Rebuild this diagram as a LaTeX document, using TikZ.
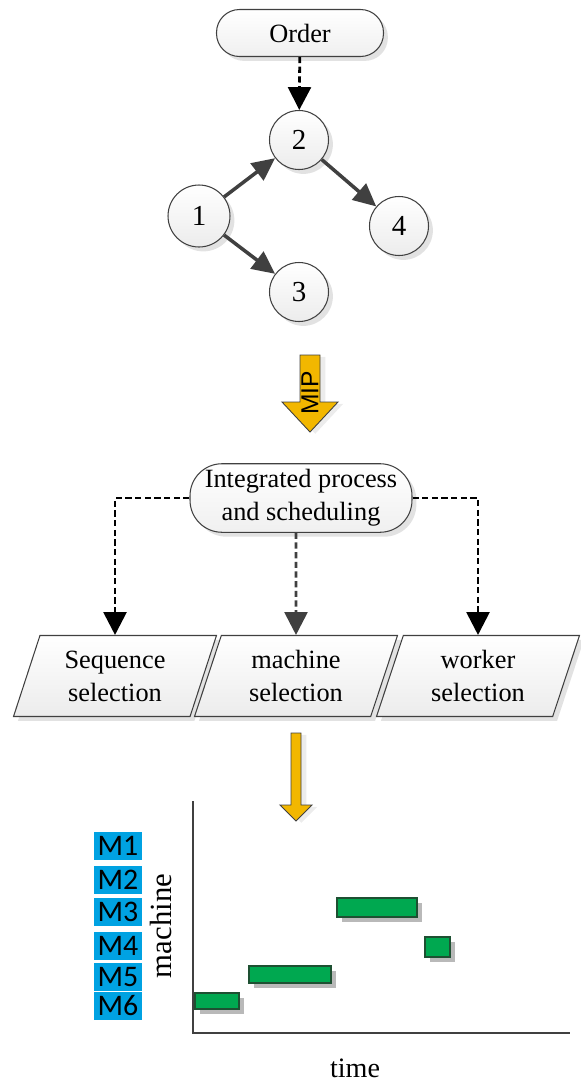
\documentclass[tikz,border=0pt]{standalone}
\usepackage{fontspec}
\setmainfont{Liberation Serif}
\newfontfamily\labelfont{Carlito}
\newfontfamily\arrowfont{Liberation Sans}
\usepackage{tikz}
\usetikzlibrary{arrows.meta}
\usetikzlibrary{shapes.geometric}
\usetikzlibrary{shadows}
\definecolor{edgegray}{RGB}{64,64,64}
\definecolor{mipyellow}{RGB}{242,183,0}
\definecolor{mblue}{RGB}{0,162,226}
\definecolor{bargreen}{RGB}{0,168,80}
\definecolor{bardark}{RGB}{30,80,50}

\begin{document}
\begin{tikzpicture}[x=0.02cm, y=-0.02cm,
    txt/.style={font=\fontsize{15}{18.7}\selectfont, align=center},
    softshadow/.style={drop shadow={shadow xshift=2.5pt, shadow yshift=-2.5pt, fill=gray!45, opacity=.5}},
    pill/.style={txt, draw=edgegray, line width=0.6pt, rounded corners=0.46cm, top color=white, bottom color=gray!12, softshadow},
    job/.style={circle, draw=edgegray, line width=0.6pt, minimum size=1.18cm, top color=white, bottom color=gray!15, softshadow, font=\fontsize{16.5}{18}\selectfont},
    choice/.style={txt, trapezium, trapezium left angle=67, trapezium right angle=113, trapezium stretches body,
        minimum width=4.06cm, minimum height=1.62cm, draw=edgegray, line width=0.6pt, top color=white, bottom color=gray!15, softshadow},
    link/.style={draw=edgegray, line width=2pt, -{Triangle[length=13pt,width=12pt]}},
    flow/.style={line width=1.6pt, dash pattern=on 3.5pt off 2pt, -{Triangle[length=13pt,width=13pt]}},
    mlabel/.style={fill=mblue, minimum width=0.96cm, minimum height=0.56cm, inner sep=0pt, font=\labelfont\fontsize{17}{17}\selectfont},
    bar/.style={fill=bargreen, draw=bardark, line width=0.6pt},
    barshade/.style={fill=gray!55},
    block/.style={fill=mipyellow, draw=edgegray, line width=0.5pt, drop shadow={shadow xshift=3pt, shadow yshift=-1pt, fill=gray!30, opacity=.5}}
]
    \useasboundingbox (0,0) rectangle (581,1086);

    \node[pill, minimum width=3.34cm, minimum height=0.94cm] (order) at (300,33) {Order};
    \node[job, minimum size=1.24cm] (c1) at (199,216) {1};
    \node[job] (c2) at (299,140) {2};
    \node[job] (c3) at (299,292) {3};
    \node[job] (c4) at (399,226) {4};
    \draw[flow] (order) -- (c2);
    \draw[link] (c1) -- (c2);
    \draw[link] (c1) -- (c3);
    \draw[link] (c2) -- (c4);

    \draw[block] (300,355) -- (320,355) -- (320,402) -- (338,402) -- (310,432) -- (282,402) -- (300,402) -- cycle;
    \node[rotate=90, inner sep=0pt, font=\arrowfont\fontsize{14}{14}\selectfont] (mip) at (310,393) {MIP};

    \node[pill, rounded corners=0.64cm, minimum width=4.44cm, minimum height=1.34cm] (plan) at (301,498) {Integrated process\\and scheduling};
    \node[choice] (seq) at (115,676) {Sequence\\selection};
    \node[choice] (mach) at (296,676) {machine\\selection};
    \node[choice] (work) at (478,676) {worker\\selection};
    \draw[flow] (plan.west) -| (seq);
    \draw[flow, edgegray] (plan.south -| mach) -- (mach);
    \draw[flow] (plan.east) -| (work);

    \draw[block] (291,733) -- (301,733) -- (301,805) -- (312,805) -- (296,821) -- (280,805) -- (291,805) -- cycle;

    \draw[edgegray, line width=1.3pt] (193,801) -- (193,1033) -- (570,1033);
    \node[rotate=90, font=\fontsize{17.5}{18}\selectfont] (ylabel) at (161,926) {machine};
    \node[font=\fontsize{16}{18}\selectfont] (xlabel) at (355,1068) {time};
    \foreach \i/\y in {1/846,2/880,3/912,4/946,5/977,6/1006}
        \node[mlabel] (m\i) at (118,\y) {M\i};
    \foreach \xa/\ya/\xb/\yb in {195/993/239/1009, 249/966/331/983, 337/898/417/917, 425/937/450/957} {
        \fill[barshade] (\xa+5,\ya+5) rectangle (\xb+5,\yb+5);
        \draw[bar] (\xa,\ya) rectangle (\xb,\yb);
    }
\end{tikzpicture}
\end{document}
